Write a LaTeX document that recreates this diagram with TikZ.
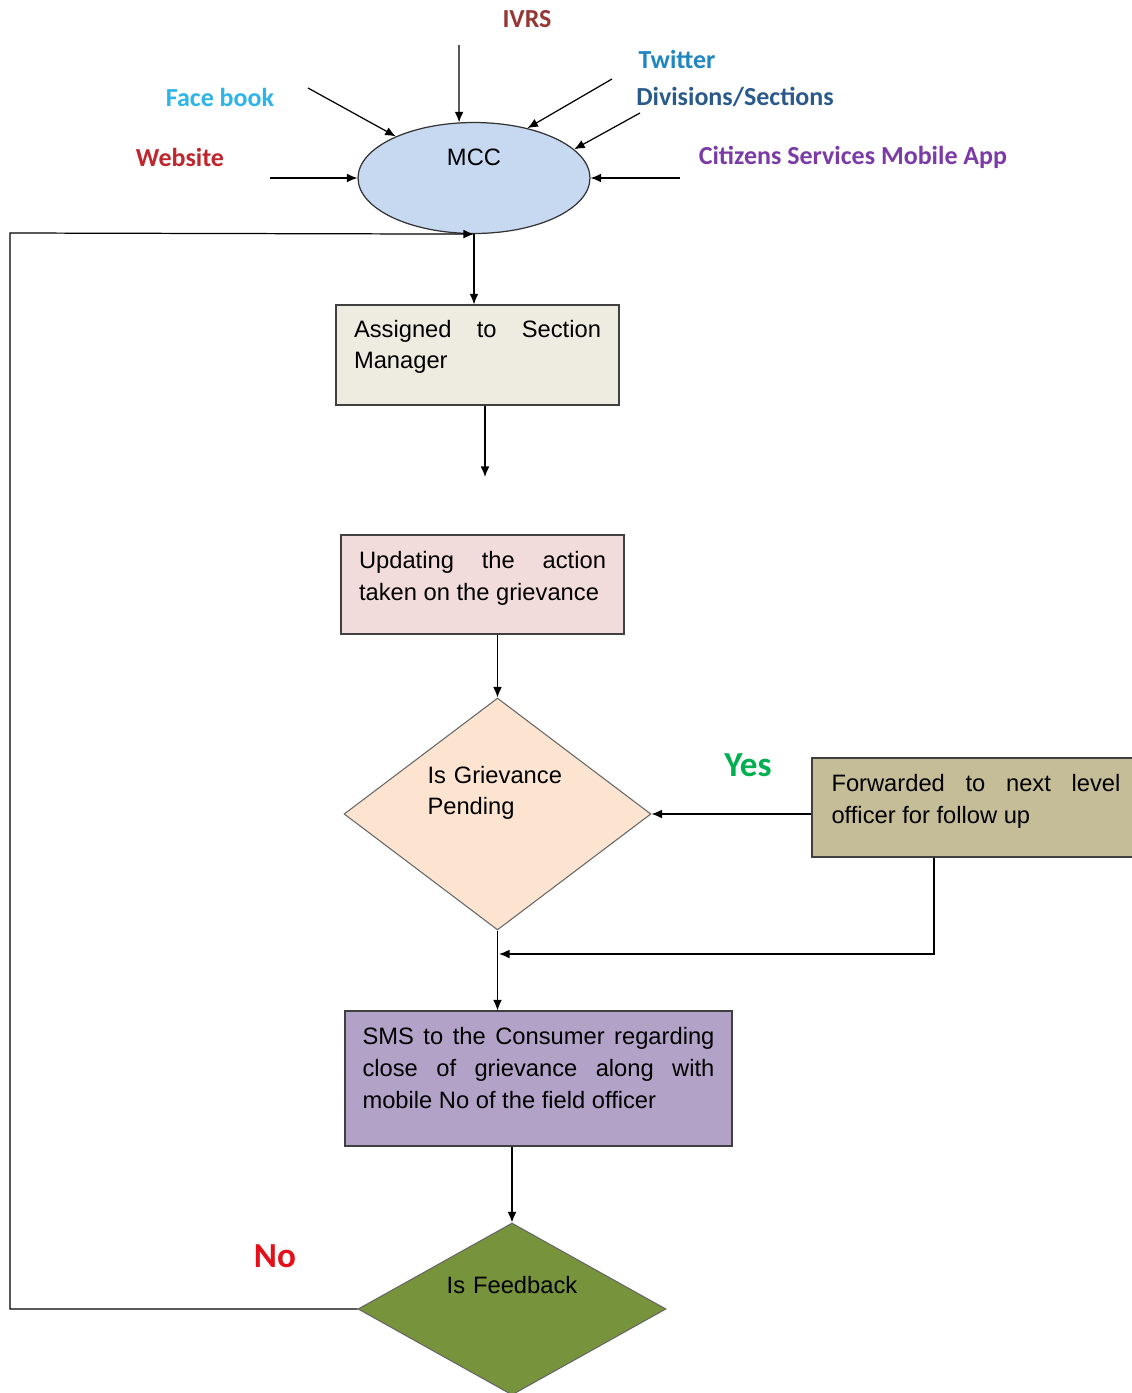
\documentclass[tikz,border=0pt]{standalone}
\usepackage{fontspec}
\setmainfont{Liberation Sans}
\newfontfamily\srcfont{Carlito}
\usetikzlibrary{arrows.meta,shapes.geometric,positioning}

\definecolor{mccblue}{HTML}{C6D9F1}
\definecolor{assignfill}{HTML}{EEECE1}
\definecolor{updatefill}{HTML}{F2DCDB}
\definecolor{pendfill}{HTML}{FDE4D0}
\definecolor{fwdfill}{HTML}{C4BD97}
\definecolor{smsfill}{HTML}{B3A2C7}
\definecolor{feedfill}{HTML}{77933C}
\definecolor{ivrscol}{HTML}{953735}
\definecolor{twittercol}{HTML}{1F86C1}
\definecolor{fbcol}{HTML}{2DB4E8}
\definecolor{divcol}{HTML}{2A5A8C}
\definecolor{webcol}{HTML}{C0272D}
\definecolor{appcol}{HTML}{7A3BA8}
\definecolor{yescol}{HTML}{00B050}
\definecolor{nocol}{HTML}{E3101A}

\hyphenpenalty=10000
\exhyphenpenalty=10000
\tolerance=10000
\newcommand\liftby[1]{\rule[-#1]{0pt}{#1}}

\begin{document}
\begin{tikzpicture}[x=0.02cm,y=-0.02cm,
    flow/.style={line width=0.7pt,-{Latex[length=6pt,width=5pt]}},
    box/.style={rectangle,draw=black!75,line width=0.7pt,inner sep=0pt,
      align=justify,font=\fontsize{13.5}{18}\selectfont},
    decide/.style={diamond,draw=black!60,line width=0.6pt,inner sep=0pt,
      font=\fontsize{13.5}{18}\selectfont},
    src/.style={font=\srcfont\bfseries\fontsize{14.8}{17}\selectfont},
    answer/.style={font=\srcfont\bfseries\fontsize{20}{24}\selectfont}]
  \useasboundingbox (0,0) rectangle (1132,1393);

  \node[ellipse,draw=black!80,line width=0.7pt,fill=mccblue,minimum width=4.64cm,
    minimum height=2.22cm,inner sep=0pt,text width=2cm,align=center,
    font=\fontsize{13.5}{18}\selectfont] (mcc) at (474,178) {MCC\liftby{24pt}};

  \foreach \name/\x/\y/\col/\txt in {ivrs/527/19/ivrscol/IVRS, twitter/677/59/twittercol/Twitter,
      facebook/220/97/fbcol/Face book, divisions/735/97/divcol/{Divisions/Sections},
      website/180/157/webcol/Website, app/853/157/appcol/Citizens Services Mobile App}
    \node[src,text=\col] (\name) at (\x,\y) {\txt};

  \foreach \name/\x/\y/\ang in {ivrs-in/459/45/105, fb-in/308/88/152, tw-in/612/79/43,
      div-in/640/113/16, web-in/270/178/180, app-in/680/178/0}
    {\coordinate (\name) at (\x,\y);
     \draw[flow] (\name) -- (mcc.\ang);}

  \node[box,fill=assignfill,minimum width=5.66cm,minimum height=2cm,text width=4.94cm]
    (assign) at (477.5,355) {Assigned to Section Manager\liftby{12pt}};
  \node[box,fill=updatefill,minimum width=5.66cm,minimum height=1.98cm,text width=4.94cm]
    (update) at (482.5,584.5) {Updating the action taken on the grievance\liftby{10pt}};
  \node[decide,fill=pendfill,minimum width=6.14cm,minimum height=4.64cm,shape aspect=1.32,
    text width=2.8cm,align=left] (pend) at (497.5,814) {Is Grievance Pending\liftby{27pt}};
  \node[box,fill=fwdfill,minimum width=6.56cm,minimum height=1.98cm,text width=5.78cm]
    (fwd) at (976,807.5) {Forwarded to next level officer for follow up\liftby{10pt}};
  \node[box,fill=smsfill,minimum width=7.74cm,minimum height=2.7cm,text width=7.04cm]
    (sms) at (538.5,1078.5) {SMS to the Consumer regarding close of grievance along with mobile No of the field officer\liftby{12pt}};
  \node[decide,fill=feedfill,minimum width=6.16cm,minimum height=3.44cm,shape aspect=1.79,
    text width=2.7cm,align=center] (feed) at (512,1309) {Is Feedback\liftby{28pt}};

  \node[answer,text=yescol] (yes) at (748,765) {Yes};
  \node[answer,text=nocol] (no) at (275,1256) {No};

  \coordinate (gap) at (485,477);
  \coordinate (turn) at (934,954);
  \coordinate (join) at (499,954);
  \coordinate (back) at (10,233);

  \draw[flow] (mcc.south) -- (mcc.south |- assign.north);
  \draw[flow] (assign.south -| gap) -- (gap);
  \draw[flow] (update.south -| pend.north) -- (pend.north);
  \draw[flow] (fwd.west |- pend.east) -- (pend.east);
  \draw[flow] (fwd.south -| turn) -- (turn) -- (join);
  \draw[flow] (pend.south) -- (pend.south |- sms.north);
  \draw[flow] (sms.south -| feed.north) -- (feed.north);
  \draw[flow] (feed.west) -| (back) -- (mcc.south);
\end{tikzpicture}
\end{document}
